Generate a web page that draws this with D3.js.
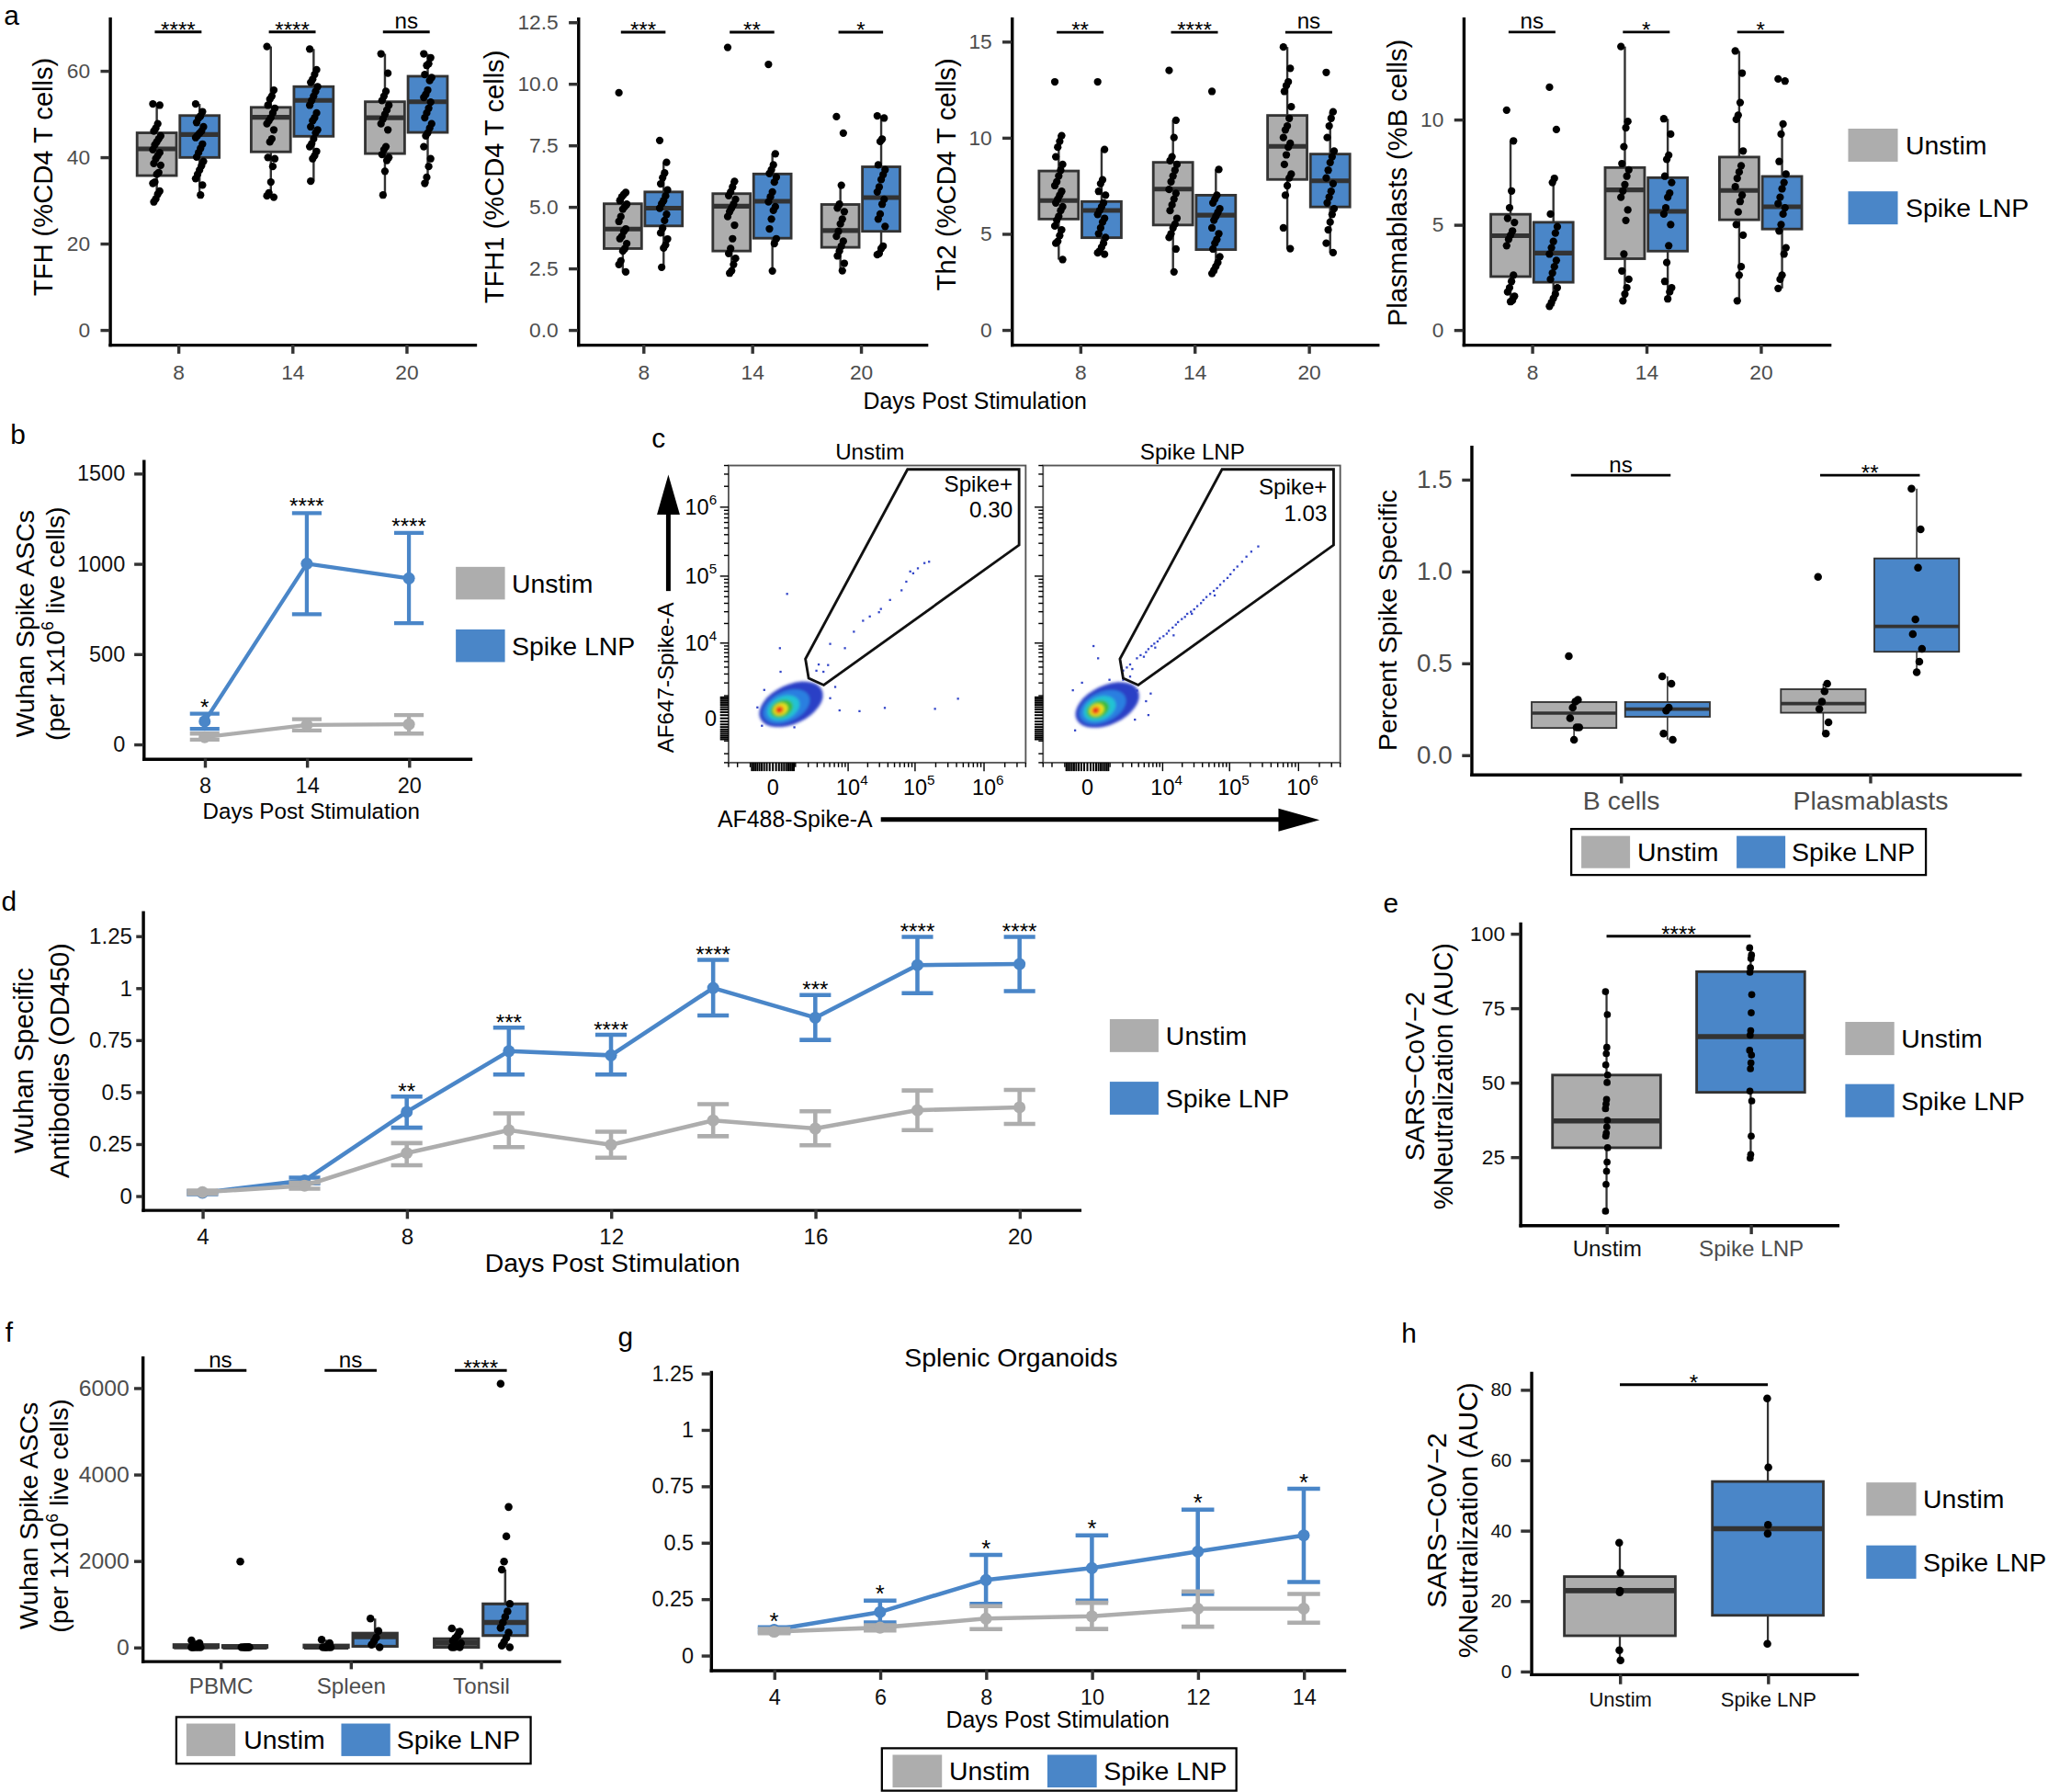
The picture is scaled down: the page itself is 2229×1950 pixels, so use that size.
<!DOCTYPE html>
<html>
<head>
<meta charset="utf-8">
<script src="https://cdn.jsdelivr.net/npm/d3@7"></script>
<style>html,body{margin:0;padding:0;background:#fff}</style>
</head>
<body>
<div id="fig"></div>
<script>
// ---------------- data ----------------
var groups = ["Unstim", "Spike LNP"];
var dayCats = ["8", "14", "20"];

// panel a: box stats per day & group = [lower whisker, q1, median, q3, upper whisker]
var tfhBox = [
  [[29.6, 35.7, 41.9, 45.6, 52.3], [31.2, 39.9, 45.2, 49.6, 52.3]],
  [[30.5, 41.2, 49.2, 51.5, 65.6], [34.4, 44.8, 53.1, 56.3, 65.0]],
  [[31.2, 40.8, 49.1, 52.8, 63.9], [33.9, 45.7, 52.8, 58.7, 63.9]]
];
var tfhPts = [
  [[52.3, 52.0, 47.7, 46.7, 46.0, 44.9, 44.2, 43.5, 42.8, 41.7, 41.0, 40.3, 39.6, 38.5, 38.1, 36.4, 36.0, 34.2, 33.9, 32.1, 31.4, 30.3, 29.6],
   [52.3, 50.5, 49.5, 49.0, 48.0, 47.0, 46.0, 45.5, 45.0, 44.5, 43.0, 42.0, 41.0, 40.0, 39.0, 38.0, 37.0, 36.0, 35.0, 33.5, 31.2]],
  [[65.6, 55.5, 54.1, 53.4, 52.0, 51.3, 50.2, 49.1, 48.4, 47.7, 46.3, 44.2, 43.5, 39.9, 39.6, 37.8, 34.2, 31.7, 31.0, 30.7],
   [65.0, 60.2, 59.1, 58.0, 57.3, 56.3, 55.2, 54.1, 53.1, 52.0, 50.2, 49.1, 48.4, 47.0, 46.3, 45.6, 44.2, 43.1, 42.4, 41.3, 40.3, 39.6, 34.4]],
  [[63.9, 59.4, 55.2, 54.1, 53.1, 52.0, 50.9, 49.9, 48.8, 47.7, 46.3, 42.4, 41.7, 40.6, 39.9, 39.2, 36.7, 31.2],
   [63.9, 63.0, 61.6, 61.2, 59.1, 58.4, 57.7, 55.5, 54.5, 53.8, 52.7, 51.3, 50.2, 49.1, 47.7, 46.7, 45.6, 44.9, 42.4, 39.6, 37.8, 35.3, 33.9]]
];
var tfhSig = ["****", "****", "ns"];

var tfh1Box = [
  [[2.33, 3.30, 4.09, 5.12, 5.58], [2.54, 4.22, 4.94, 5.60, 6.80]],
  [[2.33, 3.20, 5.02, 5.53, 6.03], [2.39, 3.72, 5.22, 6.33, 7.15]],
  [[2.39, 3.35, 4.03, 5.09, 5.87], [3.05, 4.00, 5.37, 6.62, 8.69]]
];
var tfh1Pts = [
  [[9.63, 5.58, 5.5, 5.4, 5.25, 5.1, 5.0, 4.9, 4.6, 4.4, 4.1, 4.0, 3.8, 3.7, 3.5, 3.3, 3.2, 2.8, 2.65, 2.35],
   [7.69, 6.80, 6.37, 6.18, 5.93, 5.68, 5.44, 5.25, 5.12, 4.94, 4.69, 4.44, 4.13, 3.94, 3.69, 3.45, 3.32, 2.54]],
  [[11.47, 6.03, 5.8, 5.6, 5.45, 5.3, 5.1, 4.95, 4.8, 4.6, 4.25, 3.7, 3.3, 3.1, 2.9, 2.65, 2.4, 2.3],
   [10.78, 7.15, 6.7, 6.5, 6.35, 6.2, 6.0, 5.6, 5.4, 5.2, 5.0, 4.85, 4.5, 4.1, 3.7, 3.5, 2.39]],
  [[8.66, 7.99, 5.87, 5.1, 4.95, 4.8, 4.5, 4.3, 4.0, 3.8, 3.6, 3.4, 3.2, 3.0, 2.7, 2.4],
   [8.69, 8.6, 7.75, 7.65, 6.7, 6.5, 6.3, 6.1, 5.8, 5.6, 5.3, 5.1, 4.7, 4.5, 4.2, 3.4, 3.3, 3.1, 3.05]]
];
var tfh1Sig = ["***", "**", "*"];

var th2Box = [
  [[3.65, 5.76, 6.72, 8.26, 10.14], [3.93, 4.79, 6.21, 6.67, 9.38]],
  [[3.01, 5.45, 7.32, 8.71, 10.9], [2.93, 4.17, 5.96, 7.0, 8.34]],
  [[4.22, 7.82, 9.54, 11.15, 14.71], [4.01, 6.39, 7.75, 9.14, 11.34]]
];
var th2Pts = [
  [[12.9, 10.1, 9.8, 9.5, 9.0, 8.6, 8.3, 8.0, 7.7, 7.5, 7.2, 7.0, 6.8, 6.6, 6.4, 6.2, 5.9, 5.7, 5.4, 5.2, 4.9, 4.6, 4.5, 3.65],
   [12.9, 9.38, 7.8, 7.6, 7.2, 7.0, 6.6, 6.4, 6.2, 6.0, 5.8, 5.6, 5.3, 5.0, 4.8, 4.5, 4.3, 4.1, 4.0, 3.93]],
  [[13.49, 10.9, 10.0, 9.0, 8.8, 8.6, 8.3, 8.0, 7.7, 7.3, 7.1, 6.8, 6.5, 6.2, 5.8, 5.5, 5.3, 5.0, 4.8, 4.2, 3.01],
   [12.4, 8.34, 7.0, 6.8, 6.6, 6.3, 6.1, 5.9, 5.7, 5.3, 5.0, 4.7, 4.5, 4.2, 3.8, 3.5, 3.3, 3.1, 2.93]],
  [[14.71, 13.6, 12.9, 12.7, 12.4, 11.6, 11.0, 10.6, 10.4, 10.0, 9.7, 9.5, 9.1, 8.6, 8.1, 7.9, 7.5, 7.0, 5.3, 4.22],
   [13.39, 11.34, 11.0, 10.6, 10.0, 9.3, 9.0, 8.7, 8.3, 7.9, 7.6, 7.2, 6.9, 6.6, 6.3, 6.0, 5.6, 5.2, 4.5, 4.01]]
];
var th2Sig = ["**", "****", "ns"];

var pbBox = [
  [[1.34, 2.53, 4.47, 5.49, 8.98], [1.12, 2.26, 3.65, 5.11, 7.2]],
  [[1.38, 3.38, 6.65, 7.71, 13.46], [1.47, 3.74, 5.63, 7.23, 10.03]],
  [[1.38, 5.23, 6.62, 8.21, 13.25], [1.97, 4.79, 5.85, 7.29, 9.78]]
];
var pbPts = [
  [[10.44, 8.98, 6.6, 5.8, 5.3, 5.1, 4.7, 4.5, 4.3, 4.0, 2.6, 2.3, 2.0, 1.8, 1.6, 1.4, 1.34],
   [11.53, 9.52, 7.2, 7.0, 5.5, 4.9, 4.6, 4.2, 3.9, 3.6, 3.3, 3.0, 2.7, 2.4, 2.0, 1.7, 1.5, 1.3, 1.12]],
  [[13.46, 9.9, 9.6, 8.7, 7.9, 7.6, 7.3, 6.9, 6.6, 6.3, 5.7, 5.2, 3.6, 2.8, 2.4, 2.0, 1.7, 1.38],
   [10.03, 9.3, 8.3, 8.1, 7.3, 7.0, 6.5, 6.3, 5.8, 5.5, 5.0, 4.0, 3.2, 2.3, 2.0, 1.8, 1.47]],
  [[13.25, 12.2, 10.8, 10.2, 10.0, 8.5, 7.8, 7.5, 7.2, 6.8, 6.4, 6.1, 5.6, 5.0, 4.5, 3.0, 2.6, 1.38],
   [11.92, 11.82, 9.78, 9.3, 8.0, 7.4, 7.0, 6.7, 6.3, 6.0, 5.8, 5.5, 5.0, 4.7, 3.9, 3.6, 2.6, 2.4, 1.97]]
];
var pbSig = ["ns", "*", "*"];

// panel b: Wuhan spike ASCs (mean, lower, upper)
var ascUnstim = [39, 107, 110], ascUnstimLo = [25, 76, 59], ascUnstimHi = [59, 139, 161];
var ascSpike = [127, 1000, 919], ascSpikeLo = [85, 720, 670], ascSpikeHi = [169, 1280, 1170];
var ascSig = ["*", "****", "****"];

// panel c: flow events (AF488, AF647) and gate
var gateVerts = [[77600, 3.52e6], [3.21e6, 3.52e6], [3.21e6, 2.83e5], [3950, 1805], [2040, 2480], [1740, 5520]];
var unstimCore = [211, 291], spikeCore = [276, 266];
var unstimEvents = [[540, 55000], [235, 8300], [8900, 8300], [12300, 15000], [17000, 22000], [21500, 25500], [29500, 29500],
  [43000, 44800], [63500, 62000], [74500, 83000], [94000, 110000], [110000, 130000], [137000, 155000], [160000, 162000],
  [85000, 117000], [31500, 33000], [36000, 370], [15000, 240], [195000, 330], [420000, 820], [4700, 4350], [3200, 4450],
  [3900, 3300], [5100, 9700], [2900, 3450], [260, 3300], [-296, 1400], [6200, 1640], [5100, 850], [-390, -250], [930, -310],
  [7300, 270], [-600, 390]];
var spikeEvents = [[2040, 3470], [2800, 4450], [3740, 5670], [4940, 6020], [5380, 7150], [6650, 8970], [8310, 10600],
  [10300, 12800], [12500, 15500], [16000, 19200], [19700, 23300], [23800, 27900], [30200, 32600], [38100, 40200],
  [45900, 49500], [58800, 60900], [73000, 74900], [93300, 94200], [115700, 123000], [152000, 162000], [207000, 227000],
  [261000, 270000], [2420, 3940], [3080, 3700], [4340, 6390], [5890, 8020], [7360, 9800], [9020, 11850], [11600, 14000],
  [14300, 17300], [17300, 21000], [22000, 25100], [27000, 30000], [33600, 36300], [41300, 44700], [52000, 55000],
  [65700, 66800], [82500, 84700], [103000, 106500], [129900, 138000], [176000, 192000], [7620, 8470], [27900, 27900],
  [14800, 13200], [60600, 52100], [202, 8970], [382, 5670], [5890, 102], [5380, 684], [967, 2320], [-174, 2020],
  [3740, 1350], [2040, 2320], [2800, 2680], [-553, 1375], [6430, 1140], [-450, -440], [3440, -40]];

// panel c right: percent spike specific
var spikeCats = ["B cells", "Plasmablasts"];
var spikeBox = [
  [[0.083, 0.147, 0.228, 0.288, 0.30], [0.083, 0.208, 0.25, 0.288, 0.428]],
  [[0.117, 0.23, 0.28, 0.358, 0.388], [0.45, 0.562, 0.70, 1.07, 1.45]]
];
var spikePts = [
  [[0.538, 0.30, 0.29, 0.258, 0.2, 0.15, 0.15, 0.083], [0.428, 0.388, 0.258, 0.242, 0.117, 0.083]],
  [[0.97, 0.388, 0.347, 0.29, 0.25, 0.178, 0.117], [1.45, 1.228, 1.02, 0.738, 0.658, 0.578, 0.508, 0.45]]
];
var spikeSig = ["ns", "**"];

// panel d: ELISA OD450
var odDays = [4, 6, 8, 10, 12, 14, 16, 18, 20];
var odUnstim = [0.018, 0.049, 0.206, 0.316, 0.246, 0.363, 0.324, 0.412, 0.426];
var odUnstimLo = [0.010, 0.035, 0.147, 0.235, 0.184, 0.287, 0.243, 0.316, 0.346];
var odUnstimHi = [0.026, 0.063, 0.254, 0.397, 0.309, 0.441, 0.407, 0.507, 0.510];
var odSpike = [0.015, 0.074, 0.404, 0.696, 0.676, 1.0, 0.857, 1.110, 1.115];
var odSpikeLo = [0.008, 0.060, 0.328, 0.584, 0.584, 0.868, 0.750, 0.975, 0.985];
var odSpikeHi = [0.022, 0.088, 0.478, 0.809, 0.775, 1.135, 0.966, 1.246, 1.246];
var odSig = ["", "", "**", "***", "****", "****", "***", "****", "****"];

// panel e: neutralization
var neutBox = [[6.8, 28.1, 37.1, 52.5, 80.5], [24.8, 46.7, 65.4, 87.2, 95.2]];
var neutPts = [[80.5, 72.8, 61.8, 59.7, 55.9, 52.5, 50.0, 44.3, 42.8, 41.2, 37.3, 35.1, 33.0, 32.0, 28.1, 23.3, 20.2, 15.8, 6.8],
  [95.2, 92.8, 91.6, 88.5, 87.0, 79.5, 73.4, 67.4, 65.9, 60.8, 59.2, 56.6, 54.6, 47.1, 43.8, 32.0, 25.8, 24.6]];
var neutSig = "****";

// panel f: ASCs per tissue
var tissueCats = ["PBMC", "Spleen", "Tonsil"];
var tissueBox = [
  [[0, 0, 15, 60, 158], [0, 0, 8, 40, 40]],
  [[0, 0, 10, 50, 174], [0, 23, 249, 325, 664]],
  [[0, 0, 98, 196, 438], [0, 272, 574, 1004, 1796]]
];
var tissuePts = [
  [[158, 98, 60, 23, 0, 0, 0, 0, 0, 0], [1985, 8, 0, 0, 0, 0, 0, 0]],
  [[174, 98, 40, 0, 0, 0, 0, 0], [664, 377, 226, 136, 60, 0]],
  [[438, 362, 272, 211, 150, 98, 60, 23, 0, 0, 0], [6098, 3245, 2566, 1985, 1796, 1004, 830, 700, 574, 450, 340, 220, 120, 40, 0]]
];
var tissueSig = ["ns", "ns", "****"];

// panel g: splenic organoids OD450
var orgDays = [4, 6, 8, 10, 12, 14];
var orgUnstim = [0.105, 0.123, 0.163, 0.173, 0.207, 0.207];
var orgUnstimLo = [0.098, 0.110, 0.116, 0.117, 0.127, 0.145];
var orgUnstimHi = [0.117, 0.134, 0.218, 0.233, 0.283, 0.272];
var orgSpike = [0.113, 0.192, 0.334, 0.387, 0.460, 0.532];
var orgSpikeLo = [0.103, 0.146, 0.228, 0.243, 0.272, 0.325];
var orgSpikeHi = [0.124, 0.243, 0.445, 0.532, 0.646, 0.738];
var orgSig = ["*", "*", "*", "*", "*", "*"];

// panel h: organoid neutralization
var neutOrgBox = [[3.1, 10.1, 22.9, 26.9, 36.5], [7.8, 15.9, 40.5, 53.9, 77.5]];
var neutOrgPts = [[36.5, 28.0, 22.9, 22.4, 6.0, 3.1], [77.5, 57.9, 41.6, 39.1, 7.8]];
var neutOrgSig = "*";

// ---------------- drawing ----------------
var W = 1568, H = 1372;
var FONT = "'Liberation Sans', Arial, Helvetica, sans-serif";
var GRAY = "#ADADAD", BLUE = "#4A86C8", DARK = "#333333";
var FILLS = [GRAY, BLUE];

var svg = d3.select("#fig").append("svg")
  .attr("width", 2229).attr("height", 1950)
  .attr("viewBox", "0 0 " + W + " " + H)
  .attr("preserveAspectRatio", "none")
  .style("display", "block");
svg.append("rect").attr("width", W).attr("height", H).attr("fill", "#fff");
svg.append("defs").append("filter").attr("id", "blur")
  .append("feGaussianBlur").attr("stdDeviation", 1.1);

function txt(g, x, y, s, fs, anchor, fill) {
  return g.append("text").attr("x", x).attr("y", y).text(s)
    .attr("font-family", FONT).attr("font-size", fs)
    .attr("text-anchor", anchor || "start").attr("fill", fill || "#000");
}
function vtxt(g, x, y, s, fs) {
  return g.append("text").attr("transform", "translate(" + x + "," + y + ") rotate(-90)")
    .attr("text-anchor", "middle").attr("font-family", FONT).attr("font-size", fs)
    .attr("fill", "#000").text(s);
}
// rotated "(per 1x10^6 live cells)"
function vtxtPer(g, x, y, fs) {
  var t = g.append("text").attr("transform", "translate(" + x + "," + y + ") rotate(-90)")
    .attr("text-anchor", "middle").attr("font-family", FONT).attr("font-size", fs).attr("fill", "#000");
  t.append("tspan").text("(per 1x10");
  t.append("tspan").attr("dy", -fs * 0.4).attr("font-size", fs * 0.62).text("6");
  t.append("tspan").attr("dy", fs * 0.4).text(" live cells)");
}

function styleAxis(a, o) {
  a.attr("font-family", null).attr("font-size", null);
  a.select(".domain").attr("stroke", "#000").attr("stroke-width", o.lw || 2.4).attr("stroke-linecap", "square");
  a.selectAll(".tick line").attr("stroke", DARK).attr("stroke-width", o.tw || 2.4);
  a.selectAll(".tick text").attr("font-family", FONT).attr("font-size", o.fs || 16)
    .attr("fill", o.color || "#4D4D4D");
}
function yAxis(g, y, x0, ticks, fmt, o) {
  var a = g.append("g").attr("transform", "translate(" + x0 + ",0)")
    .call(d3.axisLeft(y).tickValues(ticks).tickFormat(fmt).tickSizeOuter(0)
      .tickSizeInner(o.tick || 7).tickPadding(o.pad == null ? 7 : o.pad));
  styleAxis(a, o);
  return a;
}
function xAxis(g, x, y0, ticks, fmt, o) {
  var a = g.append("g").attr("transform", "translate(0," + y0 + ")")
    .call(d3.axisBottom(x).tickValues(ticks).tickFormat(fmt).tickSizeOuter(0)
      .tickSizeInner(o.tick || 7).tickPadding(o.pad == null ? 7 : o.pad));
  styleAxis(a, o);
  return a;
}

// deterministic spread of points around the box centre
function jitter(j, amp) { return (((j * 7) % 9) - 4) / 4 * amp; }

function boxes(g, x, y, box, pts, o) {
  var step = x(1) - x(0);
  var bw = step * o.bw;
  box.forEach(function (cat, i) {
    cat.forEach(function (s, k) {
      var cx = x(i + (cat.length > 1 ? (k - 0.5) * o.dodge : 0));
      var fill = cat.length > 1 ? FILLS[k] : FILLS[i];
      g.append("line").attr("x1", cx).attr("x2", cx).attr("y1", y(s[4])).attr("y2", y(s[3]))
        .attr("stroke", DARK).attr("stroke-width", o.ww);
      g.append("line").attr("x1", cx).attr("x2", cx).attr("y1", y(s[1])).attr("y2", y(s[0]))
        .attr("stroke", DARK).attr("stroke-width", o.ww);
      g.append("rect").attr("x", cx - bw / 2).attr("y", y(s[3])).attr("width", bw)
        .attr("height", Math.max(0.5, y(s[1]) - y(s[3])))
        .attr("fill", fill).attr("stroke", DARK).attr("stroke-width", o.sw);
      g.append("line").attr("x1", cx - bw / 2).attr("x2", cx + bw / 2).attr("y1", y(s[2])).attr("y2", y(s[2]))
        .attr("stroke", DARK).attr("stroke-width", o.mw);
    });
  });
  pts.forEach(function (cat, i) {
    cat.forEach(function (vals, k) {
      var cx = x(i + (cat.length > 1 ? (k - 0.5) * o.dodge : 0));
      g.append("g").selectAll("circle").data(vals).join("circle")
        .attr("cx", function (d, j) { return cx + jitter(j, o.jit); })
        .attr("cy", function (d) { return y(d); })
        .attr("r", o.r).attr("fill", "#000");
    });
  });
}

function sigBar(g, x1, x2, yb, label, fs) {
  g.append("line").attr("x1", x1).attr("x2", x2).attr("y1", yb).attr("y2", yb)
    .attr("stroke", "#000").attr("stroke-width", 2);
  var star = label.indexOf("*") >= 0;
  txt(g, (x1 + x2) / 2, star ? yb - 3 + 0.43 * fs : yb - 2.5, label, fs, "middle");
}

function lineChart(g, x, y, xs, series, o) {
  series.forEach(function (s) {
    g.append("path").datum(xs.map(function (d, i) { return [x(d), y(s.mean[i])]; }))
      .attr("d", d3.line()).attr("fill", "none").attr("stroke", s.color)
      .attr("stroke-width", o.lw).attr("stroke-linejoin", "round");
    xs.forEach(function (d, i) {
      var cx = x(d);
      g.append("line").attr("x1", cx).attr("x2", cx).attr("y1", y(s.lo[i])).attr("y2", y(s.hi[i]))
        .attr("stroke", s.color).attr("stroke-width", o.ew);
      [s.lo[i], s.hi[i]].forEach(function (v) {
        g.append("line").attr("x1", cx - o.cap / 2).attr("x2", cx + o.cap / 2).attr("y1", y(v)).attr("y2", y(v))
          .attr("stroke", s.color).attr("stroke-width", o.ew);
      });
      g.append("circle").attr("cx", cx).attr("cy", y(s.mean[i])).attr("r", o.r).attr("fill", s.color);
    });
  });
}
function starsAbove(g, x, y, xs, hi, sig, fs, gap) {
  xs.forEach(function (d, i) {
    if (sig[i]) txt(g, x(d), y(hi[i]) - gap + 0.43 * fs, sig[i], fs, "middle");
  });
}

function legendV(g, sx, sw, sh, ys, tx, fs) {
  groups.forEach(function (name, k) {
    g.append("rect").attr("x", sx).attr("y", ys[k]).attr("width", sw).attr("height", sh).attr("fill", FILLS[k]);
    txt(g, tx, ys[k] + sh / 2 + 0.36 * fs, name, fs);
  });
}
function legendH(g, bx, by, bwid, bh, sxs, sy, sw, sh, txs, fs) {
  g.append("rect").attr("x", bx).attr("y", by).attr("width", bwid).attr("height", bh)
    .attr("fill", "#fff").attr("stroke", "#000").attr("stroke-width", 1.6);
  groups.forEach(function (name, k) {
    g.append("rect").attr("x", sxs[k]).attr("y", sy).attr("width", sw).attr("height", sh).attr("fill", FILLS[k]);
    txt(g, txs[k], sy + sh / 2 + 0.36 * fs, name, fs);
  });
}

// panel letters
[["a", 3, 19], ["b", 8, 340], ["c", 499, 343], ["d", 1, 697], ["e", 1059, 699], ["f", 4, 1027], ["g", 473, 1031], ["h", 1073, 1028]]
  .forEach(function (p) { txt(svg, p[1], p[2], p[0], 21); });

// ===== panel a =====
var aCfg = [
  {x0: 84, x1: 363.5, dom: [-3.42, 72.1], ticks: [0, 20, 40, 60], fmt: d3.format("d"),
   box: tfhBox, pts: tfhPts, sig: tfhSig, barV: 68.96, title: "TFH (%CD4 T cells)", tx: 40, ty: 135.4},
  {x0: 442.5, x1: 709, dom: [-0.6, 12.65], ticks: [0, 2.5, 5, 7.5, 10, 12.5], fmt: d3.format(".1f"),
   box: tfh1Box, pts: tfh1Pts, sig: tfh1Sig, barV: 12.09, title: "TFH1 (%CD4 T cells)", tx: 385.6, ty: 135.4},
  {x0: 774.5, x1: 1054.5, dom: [-0.77, 16.2], ticks: [0, 5, 10, 15], fmt: d3.format("d"),
   box: th2Box, pts: th2Pts, sig: th2Sig, barV: 15.48, title: "Th2 (%CD4 T cells)", tx: 731.6, ty: 133.6},
  {x0: 1120.4, x1: 1400.5, dom: [-0.70, 14.8], ticks: [0, 5, 10], fmt: d3.format("d"),
   box: pbBox, pts: pbPts, sig: pbSig, barV: 14.15, title: "Plasmablasts (%B cells)", tx: 1076.8, ty: 140}
];
aCfg.forEach(function (c) {
  var g = svg.append("g");
  var x = d3.scaleLinear().domain([-0.6, dayCats.length - 0.4]).range([c.x0, c.x1]);
  var y = d3.scaleLinear().domain(c.dom).range([263.8, 14.07]);
  xAxis(g, x, 263.8, d3.range(dayCats.length), function (i) { return dayCats[i]; }, {pad: 8.5, fs: 16});
  yAxis(g, y, c.x0, c.ticks, c.fmt, {pad: 8, fs: 16});
  boxes(g, x, y, c.box, c.pts, {bw: 0.345, dodge: 0.375, sw: 2, mw: 3.6, ww: 1.7, r: 2.9, jit: 3});
  c.sig.forEach(function (s, i) { sigBar(g, x(i - 0.205), x(i + 0.205), y(c.barV), s, 17); });
  vtxt(g, c.tx, c.ty, c.title, 20.5);
});
txt(svg, 746.5, 313, "Days Post Stimulation", 17.5, "middle");
legendV(svg, 1415, 38, 25.3, [98.5, 146.5], 1459, 20);

// ===== panel b =====
(function () {
  var g = svg.append("g");
  var x = d3.scaleLinear().domain([-0.6, 2.6]).range([109.8, 360]);
  var y = d3.scaleLinear().domain([-79.6, 1569]).range([580.8, 352.9]);
  var idx = d3.range(dayCats.length);
  xAxis(g, x, 580.8, idx, function (i) { return dayCats[i]; }, {pad: 7.5, fs: 16.5, color: "#111"});
  yAxis(g, y, 109.8, [0, 500, 1000, 1500], d3.format("d"), {pad: 7, fs: 16.5, color: "#111"});
  lineChart(g, x, y, idx, [
    {mean: ascSpike, lo: ascSpikeLo, hi: ascSpikeHi, color: BLUE},
    {mean: ascUnstim, lo: ascUnstimLo, hi: ascUnstimHi, color: GRAY}
  ], {lw: 3, ew: 3, cap: 22.6, r: 4.6});
  starsAbove(g, x, y, idx, ascSpikeHi, ascSig, 17, 6.5);
  vtxt(g, 26, 477.5, "Wuhan Spike ASCs", 20);
  vtxtPer(g, 49, 477.5, 20);
  txt(g, 238.3, 627.2, "Days Post Stimulation", 17, "middle");
  legendV(g, 349, 37.6, 25, [434, 481.9], 391.8, 20);
})();

// ===== panel c: flow plots =====
var cloudLevels = [
  {dx: 10, rx: 26, ry: 15, color: "#2c3fc6"},
  {dx: 6, rx: 19, ry: 11.5, color: "#2b7fe0"},
  {dx: 3.5, rx: 13, ry: 8.8, color: "#22c3d3"},
  {dx: 2, rx: 9, ry: 6.5, color: "#3dbb3a"},
  {dx: 1, rx: 5.8, ry: 4.6, color: "#e9e31f"},
  {dx: 0.3, rx: 3.5, ry: 3, color: "#f28a18"},
  {dx: 0, rx: 2, ry: 1.8, color: "#e3191c"}
];
var flowTicks = (function () {
  var t = [-3000, -2000, -1000];
  for (var v = -900; v <= 900; v += 100) t.push(v);
  [3, 4, 5, 6].forEach(function (e) {
    for (var k = 1; k <= 9; k++) { var val = k * Math.pow(10, e); if (val <= 4e6) t.push(val); }
  });
  return t;
})();
var flowMajor = [1e4, 1e5, 1e6];

function pow10(g, x, y, e, anchor, fs) {
  var t = g.append("text").attr("x", x).attr("y", y).attr("text-anchor", anchor)
    .attr("font-family", FONT).attr("font-size", fs).attr("fill", "#000");
  t.append("tspan").text("10");
  t.append("tspan").attr("dy", -fs * 0.45).attr("font-size", fs * 0.65).text(e);
}

function flowPlot(x0, titleX, title, pctY, pct, events, core, yLabels) {
  var g = svg.append("g");
  var top = 356.4, bot = 583.9, size = 227.5;
  var x = d3.scaleSymlog().constant(891).domain([-3000, 4e6]).range([x0, x0 + size]);
  var y = d3.scaleSymlog().constant(891).domain([-3000, 4e6]).range([bot, top]);
  g.append("rect").attr("x", x0).attr("y", top).attr("width", size).attr("height", size)
    .attr("fill", "none").attr("stroke", "#555").attr("stroke-width", 1.3);
  // density cloud
  var cg = g.append("g").attr("filter", "url(#blur)")
    .attr("transform", "translate(" + x(core[0]) + "," + y(core[1]) + ") rotate(-25)");
  cloudLevels.forEach(function (l) {
    cg.append("ellipse").attr("cx", l.dx).attr("cy", 0).attr("rx", l.rx).attr("ry", l.ry).attr("fill", l.color);
  });
  // single events
  g.append("g").selectAll("rect").data(events).join("rect")
    .attr("x", function (d) { return x(d[0]) - 0.8; }).attr("y", function (d) { return y(d[1]) - 0.8; })
    .attr("width", 1.6).attr("height", 1.6).attr("fill", "#3346c8");
  // gate
  g.append("path").attr("d", d3.line()(gateVerts.map(function (d) { return [x(d[0]), y(d[1])]; })) + "Z")
    .attr("fill", "none").attr("stroke", "#111").attr("stroke-width", 2).attr("stroke-linejoin", "miter");
  // ticks (dense cluster near zero as in biexponential display)
  flowTicks.forEach(function (v) {
    var nearZero = Math.abs(v) < 1000;
    var len = (flowMajor.indexOf(v) >= 0 || nearZero) ? 6.5 : 3.5;
    var sw = nearZero ? 1.4 : 1;
    g.append("line").attr("x1", x0).attr("x2", x0 - len).attr("y1", y(v)).attr("y2", y(v))
      .attr("stroke", "#000").attr("stroke-width", sw);
    g.append("line").attr("x1", x(v)).attr("x2", x(v)).attr("y1", bot).attr("y2", bot + len)
      .attr("stroke", "#000").attr("stroke-width", sw);
  });
  // tick labels
  txt(g, x(0), 608.5, "0", 16.5, "middle");
  [4, 5, 6].forEach(function (e) { pow10(g, x(Math.pow(10, e)) + 3, 608.5, e, "middle", 16.5); });
  if (yLabels) {
    txt(g, x0 - 9, y(0) + 5.7, "0", 16.5, "end");
    [4, 5, 6].forEach(function (e) { pow10(g, x0 - 9, y(Math.pow(10, e)) + 5.7, e, "end", 16.5); });
  }
  txt(g, titleX, 351.7, title, 17, "middle");
  txt(g, x0 + 217.5, pctY, "Spike+", 17, "end");
  txt(g, x0 + 217.5, pctY + 20, pct, 17, "end");
}
flowPlot(557.8, 666, "Unstim", 376.3, "0.30", unstimEvents, unstimCore, true);
flowPlot(798.6, 913, "Spike LNP", 378.6, "1.03", spikeEvents, spikeCore, false);

(function () {
  var g = svg.append("g");
  vtxt(g, 515.5, 518.8, "AF647-Spike-A", 17);
  g.append("line").attr("x1", 511.7).attr("x2", 511.7).attr("y1", 452.5).attr("y2", 392)
    .attr("stroke", "#000").attr("stroke-width", 3.5);
  g.append("path").attr("d", "M503,394L520.5,394L511.7,363.4Z").attr("fill", "#000");
  txt(g, 549.4, 633, "AF488-Spike-A", 17.5);
  g.append("line").attr("x1", 674.4).attr("x2", 981).attr("y1", 627.5).attr("y2", 627.5)
    .attr("stroke", "#000").attr("stroke-width", 3.5);
  g.append("path").attr("d", "M978.8,619L978.8,636.6L1010.3,627.8Z").attr("fill", "#000");
})();

// ===== panel c: percent spike specific =====
(function () {
  var g = svg.append("g");
  var x = d3.scaleLinear().domain([-0.6, 1.6]).range([1126.4, 1546.2]);
  var y = d3.scaleLinear().domain([-0.105, 1.679]).range([592.8, 341.9]);
  xAxis(g, x, 592.8, [0, 1], function (i) { return spikeCats[i]; }, {pad: 6, fs: 20});
  yAxis(g, y, 1126.4, [0, 0.5, 1, 1.5], d3.format(".1f"), {pad: 7.5, fs: 19.5});
  boxes(g, x, y, spikeBox, spikePts, {bw: 0.34, dodge: 0.375, sw: 1.3, mw: 2.6, ww: 1.1, r: 3, jit: 4});
  spikeSig.forEach(function (s, i) { sigBar(g, x(i - 0.2), x(i + 0.2), y(1.523), s, 17); });
  vtxt(g, 1069, 474.8, "Percent Spike Specific", 20);
  legendH(g, 1203, 634.7, 271.5, 35.2, [1210.7, 1329.6], 640, 37.3, 24.7, [1253.6, 1371.7], 20);
})();

// ===== panel d =====
(function () {
  var g = svg.append("g");
  var x = d3.scaleLinear().domain([2.831, 21.169]).range([109.3, 826.3]);
  var y = d3.scaleLinear().domain([-0.0666, 1.365]).range([926.2, 698.3]);
  xAxis(g, x, 926.2, [4, 8, 12, 16, 20], d3.format("d"), {pad: 7.5, fs: 17, color: "#111"});
  yAxis(g, y, 109.3, [0, 0.25, 0.5, 0.75, 1, 1.25], function (d) { return String(d); },
    {tick: 5, pad: 3, fs: 17, color: "#111"});
  lineChart(g, x, y, odDays, [
    {mean: odSpike, lo: odSpikeLo, hi: odSpikeHi, color: BLUE},
    {mean: odUnstim, lo: odUnstimLo, hi: odUnstimHi, color: GRAY}
  ], {lw: 3.2, ew: 3.2, cap: 24, r: 4.6});
  starsAbove(g, x, y, odDays, odSpikeHi, odSig, 17, 5.5);
  vtxt(g, 25, 812, "Wuhan Specific", 20.5);
  vtxt(g, 53, 812, "Antibodies (OD450)", 20.5);
  txt(g, 469, 974, "Days Post Stimulation", 20, "middle");
  legendV(g, 849.7, 37.3, 25.2, [780.3, 828.2], 892.6, 20);
})();

// ===== panel e =====
(function () {
  var g = svg.append("g");
  var x = d3.scaleLinear().domain([-0.6, 1.6]).range([1163.8, 1406.6]);
  var y = d3.scaleLinear().domain([2.15, 103.4]).range([937.9, 707]);
  var a = xAxis(g, x, 937.9, [0, 1], function (i) { return groups[i]; }, {pad: 4.5, fs: 17, color: "#111"});
  a.selectAll(".tick text").attr("fill", function (d) { return d === 0 ? "#111" : "#4D4D4D"; });
  yAxis(g, y, 1163.8, [25, 50, 75, 100], d3.format("d"), {pad: 4.5, fs: 16, color: "#111"});
  boxes(g, x, y, neutBox.map(function (s) { return [s]; }), neutPts.map(function (p) { return [p]; }),
    {bw: 0.75, dodge: 0, sw: 2, mw: 4, ww: 1.6, r: 2.7, jit: 0.8});
  sigBar(g, x(0), x(1), y(99.1), neutSig, 17);
  vtxt(g, 1090.5, 824, "SARS\u2212CoV\u22122", 20.3);
  vtxt(g, 1112.5, 824, "%Neutralization (AUC)", 20.3);
  legendV(g, 1412.8, 37.5, 25.4, [782.4, 830], 1455.7, 20);
})();

// ===== panel f =====
(function () {
  var g = svg.append("g");
  var x = d3.scaleLinear().domain([-0.6, 2.6]).range([109, 427.9]);
  var y = d3.scaleLinear().domain([-317, 6707]).range([1271.7, 1039.2]);
  xAxis(g, x, 1271.7, [0, 1, 2], function (i) { return tissueCats[i]; }, {tick: 6.3, pad: 6.5, fs: 17});
  yAxis(g, y, 109, [0, 2000, 4000, 6000], d3.format("d"), {tick: 6.3, pad: 3.7, fs: 17.4});
  boxes(g, x, y, tissueBox, tissuePts, {bw: 0.34, dodge: 0.375, sw: 2.2, mw: 4, ww: 1.8, r: 3, jit: 3.5});
  tissueSig.forEach(function (s, i) { sigBar(g, x(i - 0.2), x(i + 0.2), y(6405), s, 17); });
  vtxt(g, 29, 1160.5, "Wuhan Spike ASCs", 20);
  vtxtPer(g, 52, 1160.5, 20);
  legendH(g, 135, 1314.6, 271.3, 35.7, [142.7, 261.3], 1319.6, 37.5, 24.9, [186.6, 303.8], 20);
})();

// ===== panel g =====
(function () {
  var g = svg.append("g");
  var x = d3.scaleLinear().domain([2.804, 14.76]).range([544.2, 1029]);
  var y = d3.scaleLinear().domain([-0.0648, 1.257]).range([1278.6, 1050.2]);
  xAxis(g, x, 1278.6, orgDays, d3.format("d"), {tick: 7.5, pad: 7.5, fs: 16.5, color: "#111"});
  yAxis(g, y, 544.2, [0, 0.25, 0.5, 0.75, 1, 1.25], function (d) { return String(d); },
    {pad: 6, fs: 16.5, color: "#111"});
  lineChart(g, x, y, orgDays, [
    {mean: orgSpike, lo: orgSpikeLo, hi: orgSpikeHi, color: BLUE},
    {mean: orgUnstim, lo: orgUnstimLo, hi: orgUnstimHi, color: GRAY}
  ], {lw: 3.2, ew: 3.2, cap: 25, r: 4.6});
  starsAbove(g, x, y, orgDays, orgSpikeHi, orgSig, 18, 6.5);
  txt(g, 774, 1045.9, "Splenic Organoids", 20, "middle");
  txt(g, 809.8, 1322.8, "Days Post Stimulation", 17.5, "middle");
  legendH(g, 675.2, 1338.5, 271.4, 32.5, [683.4, 801.9], 1343.5, 37.8, 25, [726.6, 845], 20);
})();

// ===== panel h =====
(function () {
  var g = svg.append("g");
  var x = d3.scaleLinear().domain([-0.6, 1.6]).range([1172.2, 1421.5]);
  var y = d3.scaleLinear().domain([-0.78, 84.8]).range([1281.7, 1051]);
  xAxis(g, x, 1281.7, [0, 1], function (i) { return groups[i]; }, {tick: 7.8, pad: 6, fs: 15.5, color: "#111"});
  yAxis(g, y, 1172.2, [0, 20, 40, 60, 80], d3.format("d"), {tick: 7.8, pad: 7, fs: 14.5, color: "#111"});
  boxes(g, x, y, neutOrgBox.map(function (s) { return [s]; }), neutOrgPts.map(function (p) { return [p]; }),
    {bw: 0.75, dodge: 0, sw: 2, mw: 4, ww: 1.6, r: 3, jit: 0.5});
  sigBar(g, x(0), x(1), y(81.4), neutOrgSig, 17);
  vtxt(g, 1107.5, 1164, "SARS\u2212CoV\u22122", 21);
  vtxt(g, 1131, 1164, "%Neutralization (AUC)", 21);
  legendV(g, 1428.9, 38.2, 25.5, [1135, 1183.2], 1472.4, 20);
})();
</script>
</body>
</html>
